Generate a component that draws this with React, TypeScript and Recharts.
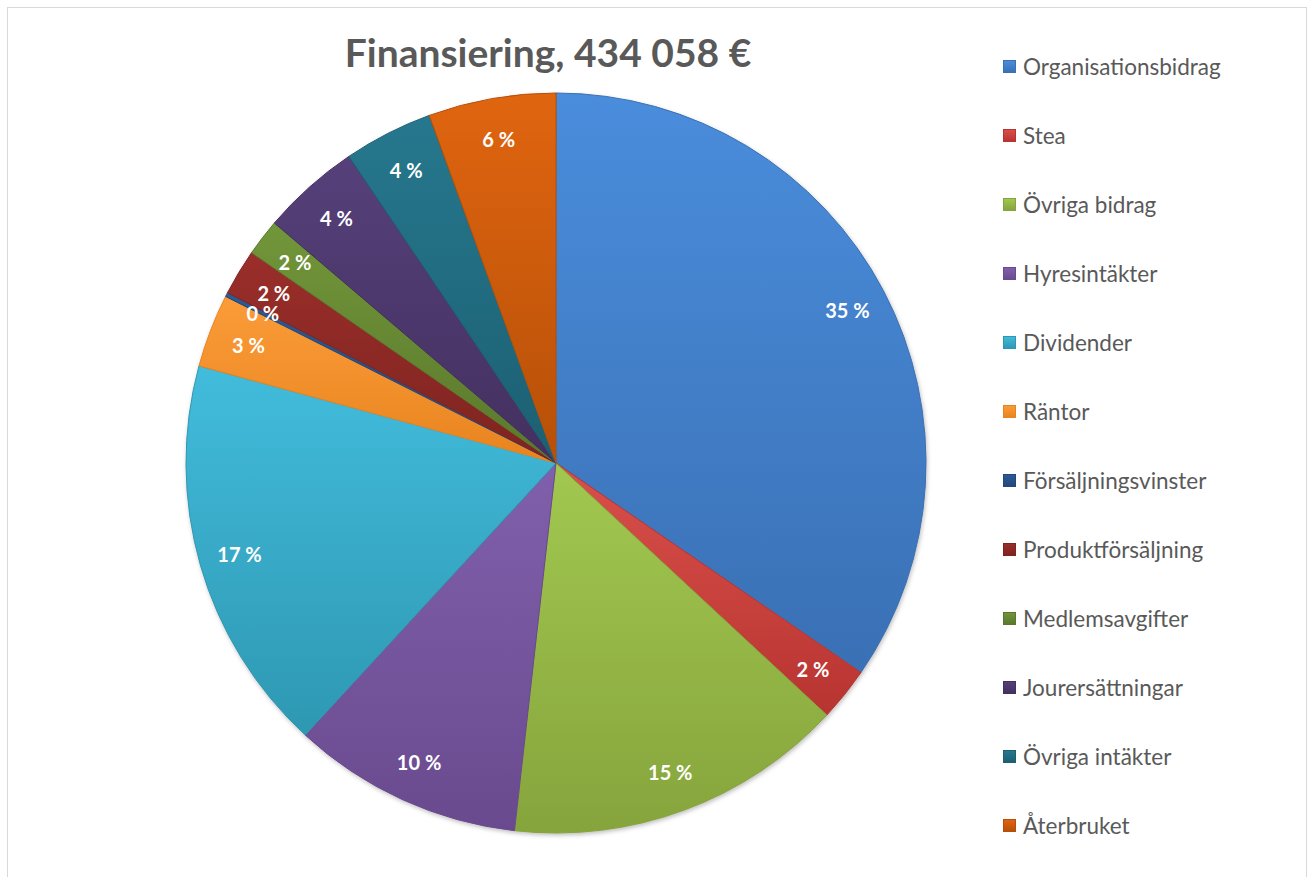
import { PieChart, Pie, Cell, Legend } from "recharts";

const TITLE = "Finansiering, 434 058 €";

const CATEGORIES = [
  "Organisationsbidrag",
  "Stea",
  "Övriga bidrag",
  "Hyresintäkter",
  "Dividender",
  "Räntor",
  "Försäljningsvinster",
  "Produktförsäljning",
  "Medlemsavgifter",
  "Jourersättningar",
  "Övriga intäkter",
  "Återbruket",
];

// euro amounts
const AMOUNTS = [
  150100, 10200, 64500, 43700, 75400, 13900, 800, 8700, 7000, 18700, 16900,
  24158,
];

const TOP_COLORS = [
  "#4a8ddc",
  "#d9504c",
  "#a2c850",
  "#8060ac",
  "#42bcdc",
  "#fb9c38",
  "#2c5a96",
  "#9a2e2a",
  "#72963a",
  "#56407a",
  "#26788e",
  "#e06510",
];

const BOTTOM_COLORS = [
  "#3a70b4",
  "#b83430",
  "#86a43c",
  "#6a4a8e",
  "#2e98b2",
  "#e88420",
  "#22477a",
  "#7e2420",
  "#5a782c",
  "#43305f",
  "#1c5f72",
  "#b65008",
];

const data = CATEGORIES.map((name, i) => ({ name, value: AMOUNTS[i] }));

const FONT = "Lato, 'Open Sans', sans-serif";
const RAD = Math.PI / 180;

function renderLabel(props: any) {
  const { cx, cy, midAngle, outerRadius, percent } = props;
  const r = outerRadius * 0.89;
  const x = cx + r * Math.cos(-midAngle * RAD);
  const y = cy + r * Math.sin(-midAngle * RAD);
  return (
    <text
      x={x}
      y={y}
      fill="#ffffff"
      textAnchor="middle"
      dominantBaseline="central"
      fontFamily={FONT}
      fontWeight={700}
      fontSize={20}
    >
      {`${Math.round(percent * 100)} %`}
    </text>
  );
}

function LegendList(props: any) {
  // keep the data order, not alphabetical
  const payload = [...(props.payload || [])].sort(
    (a: any, b: any) => CATEGORIES.indexOf(a.value) - CATEGORIES.indexOf(b.value)
  );
  return (
    <div style={{ fontFamily: FONT }}>
      {payload.map((entry: any, i: number) => {
        const idx = CATEGORIES.indexOf(entry.value);
        return (
          <div
            key={i}
            style={{ height: 69, display: "flex", alignItems: "center" }}
          >
            <svg width={13} height={13} style={{ marginRight: 7 }}>
              <rect
                x={0.5}
                y={0.5}
                width={12}
                height={12}
                fill={`url(#grad${idx})`}
                stroke={BOTTOM_COLORS[idx]}
              />
            </svg>
            <span style={{ fontSize: 22.5, color: "#595959" }}>
              {entry.value}
            </span>
          </div>
        );
      })}
    </div>
  );
}

export default function App() {
  return (
    <div
      style={{
        position: "absolute",
        left: 7,
        top: 7,
        width: 1298,
        height: 890,
        border: "1px solid #d9d9d9",
        background: "#ffffff",
      }}
    >
      <style>{`.recharts-pie { filter: drop-shadow(1px 2px 2px rgba(0,0,0,0.25)); }`}</style>
      <svg width={0} height={0} style={{ position: "absolute" }}>
        <defs>
          {TOP_COLORS.map((c, i) => (
            <linearGradient key={i} id={`grad${i}`} x1="0" y1="0" x2="0" y2="1">
              <stop offset="0%" stopColor={c} />
              <stop offset="100%" stopColor={BOTTOM_COLORS[i]} />
            </linearGradient>
          ))}
        </defs>
      </svg>

      <div
        style={{
          position: "absolute",
          left: 0,
          width: 1080,
          top: 21,
          textAlign: "center",
          fontFamily: FONT,
          fontWeight: 700,
          fontSize: 39,
          lineHeight: "47px",
          color: "#595959",
        }}
      >
        {TITLE}
      </div>

      <PieChart
        width={1298}
        height={870}
        margin={{ top: 0, right: 0, bottom: 0, left: 0 }}
      >
        <Pie
          data={data}
          dataKey="value"
          nameKey="name"
          cx={548}
          cy={455}
          outerRadius={370}
          startAngle={90}
          endAngle={-270}
          label={renderLabel}
          labelLine={false}
          isAnimationActive={false}
        >
          {data.map((_, i) => (
            <Cell
              key={i}
              fill={`url(#grad${i})`}
              stroke={BOTTOM_COLORS[i]}
              strokeWidth={1}
            />
          ))}
        </Pie>
        <Legend
          layout="vertical"
          align="right"
          verticalAlign="top"
          content={LegendList}
          wrapperStyle={{ left: 995, top: 24, width: 300 }}
        />
      </PieChart>
    </div>
  );
}
